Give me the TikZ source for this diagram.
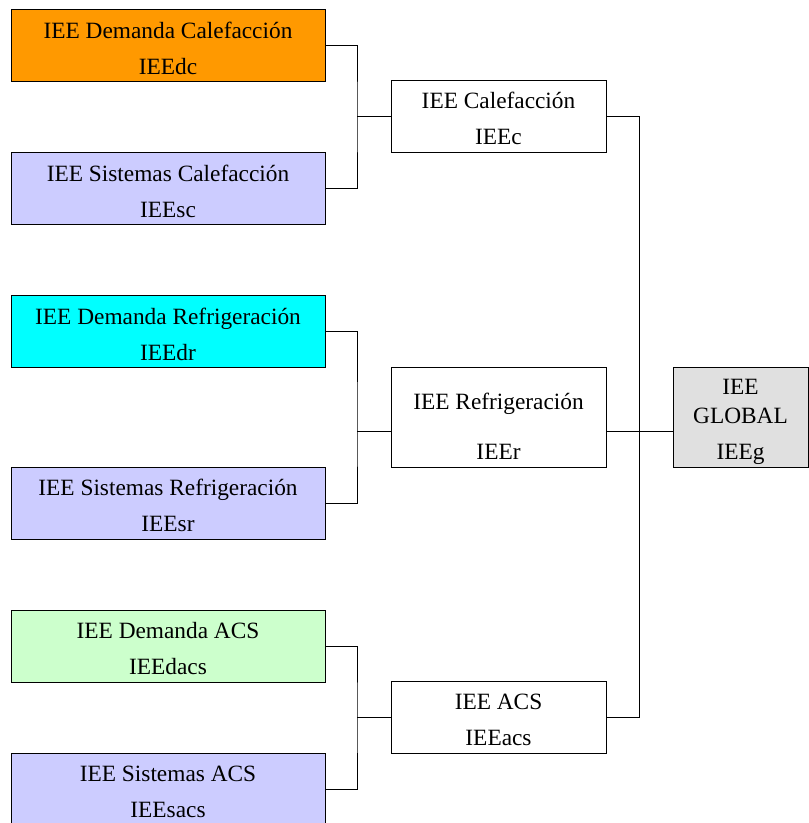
\documentclass[tikz,border=0pt]{standalone}
\usepackage{fontspec}
\setmainfont{Liberation Serif}
\usepackage{tikz}
\usetikzlibrary{positioning,calc}
\definecolor{ieeorange}{HTML}{FF9900}
\definecolor{ieelila}{HTML}{CCCCFF}
\definecolor{ieecyan}{HTML}{00FFFF}
\definecolor{ieegreen}{HTML}{CCFFCC}
\definecolor{ieegray}{HTML}{E0E0E0}
\newcommand{\toprow}[1]{\rule{0pt}{#1}}

\begin{document}
\begin{tikzpicture}[x=0.75pt,y=-0.75pt,
  box/.style={draw=black, line width=0.75pt, align=center, inner sep=0pt,
    font=\fontsize{17.5}{27}\selectfont},
  leaf/.style={box, minimum width=235.5pt, minimum height=54pt},
  mid/.style={box, minimum width=161.25pt, minimum height=54pt},
  wire/.style={line width=0.75pt}]
\useasboundingbox (0,0) rectangle (808,823);
% left column: demand and system indicators
\foreach \nm/\yy/\col/\lab in {%
   dc/45.5/ieeorange/{IEE Demanda Calefacción\\IEEdc},
   sc/189/ieelila/{IEE Sistemas Calefacción\\IEEsc},
   dr/331.5/ieecyan/{IEE Demanda Refrigeración\\IEEdr},
   sr/503/ieelila/{IEE Sistemas Refrigeración\\IEEsr},
   da/646/ieegreen/{IEE Demanda ACS\\IEEdacs},
   sa/789/ieelila/{IEE Sistemas ACS\\IEEsacs}}{
   \node[leaf, fill=\col] (\nm) at (168,\yy) {\toprow{16pt}\lab};
}
% middle column: per service
\node[mid] (c) at (498.5,117) {\toprow{15pt}IEE Calefacción\\IEEc};
\node[mid, minimum height=75pt] (r) at (498.5,417)
   {\toprow{26pt}IEE Refrigeración\\[10.5pt]IEEr};
\node[mid] (a) at (498.5,717.5) {\toprow{15pt}IEE ACS\\IEEacs};
% global
\node[box, fill=ieegray, minimum width=101.25pt, minimum height=75pt] (g) at (740.5,417)
   {\toprow{19pt}IEE\\[-5.25pt]GLOBAL\\IEEg};
% junctions
\coordinate (jc) at (357,117);
\coordinate (jr) at (357,431);
\coordinate (ja) at (357,717.5);
\coordinate (jg) at (639,431);
\draw[wire] (dc.east) -| (jc) |- (sc.east);
\draw[wire] (jc) -- (c.west);
\draw[wire] (dr.east) -| (jr) |- (sr.east);
\draw[wire] (jr) -- (r.west |- jr);
\draw[wire] (da.east) -| (ja) |- (sa.east);
\draw[wire] (ja) -- (a.west);
\draw[wire] (c.east) -| (jg) |- (a.east);
\draw[wire] (r.east |- jg) -- (g.west |- jg);
\end{tikzpicture}
\end{document}
